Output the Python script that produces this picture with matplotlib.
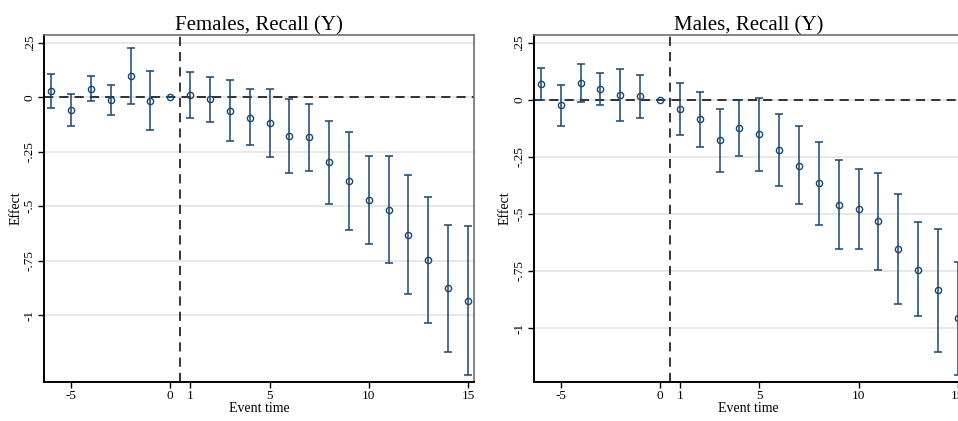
import numpy as np
import matplotlib
matplotlib.use("Agg")
import matplotlib.pyplot as plt

# event time axis
event_time = [-6, -5, -4, -3, -2, -1, 0, 1, 2, 3, 4, 5, 6, 7, 8, 9, 10, 11, 12, 13, 14, 15]

# Females, Recall (Y): point estimate and 95% CI
fem_coef = [0.029, -0.057, 0.040, -0.011, 0.099, -0.016, 0.0, 0.009, -0.009, -0.061, -0.094,
            -0.118, -0.178, -0.182, -0.298, -0.384, -0.471, -0.516, -0.630, -0.746, -0.876, -0.933]
fem_hi = [0.108, 0.017, 0.096, 0.056, 0.225, 0.121, 0.0, 0.116, 0.095, 0.078, 0.037,
          0.037, -0.008, -0.029, -0.107, -0.159, -0.268, -0.268, -0.358, -0.456, -0.584, -0.592]
fem_lo = [-0.050, -0.130, -0.016, -0.081, -0.029, -0.149, 0.0, -0.095, -0.112, -0.199, -0.220,
          -0.272, -0.347, -0.337, -0.489, -0.609, -0.674, -0.760, -0.902, -1.037, -1.168, -1.272]

# Males, Recall (Y)
mal_coef = [0.072, -0.023, 0.073, 0.047, 0.020, 0.016, 0.0, -0.039, -0.085, -0.177, -0.123,
            -0.151, -0.221, -0.288, -0.366, -0.459, -0.478, -0.531, -0.655, -0.744, -0.835, -0.958]
mal_hi = [0.139, 0.066, 0.156, 0.117, 0.134, 0.111, 0.0, 0.075, 0.034, -0.039, 0.000,
          0.009, -0.063, -0.115, -0.183, -0.263, -0.304, -0.319, -0.412, -0.537, -0.566, -0.709]
mal_lo = [0.001, -0.114, -0.010, -0.022, -0.094, -0.080, 0.0, -0.155, -0.205, -0.314, -0.244,
          -0.310, -0.377, -0.458, -0.548, -0.655, -0.655, -0.746, -0.896, -0.949, -1.105, -1.205]

yticks = [0.25, 0, -0.25, -0.5, -0.75, -1]
ytick_labels = [".25", "0", "-.25", "-.5", "-.75", "-1"]
xticks = [-5, 0, 1, 5, 10, 15]

plt.rcParams['font.family'] = ['Liberation Serif', 'DejaVu Serif']
plt.rcParams['axes.unicode_minus'] = False
navy = '#1a476f'

fig = plt.figure(figsize=(9.58, 4.21), dpi=100)


def panel(rect, title, coef, lo, hi, ylim):
    ax = fig.add_axes(rect)
    x = np.array(event_time)
    c = np.array(coef)
    err = [c - np.array(lo), np.array(hi) - c]
    ax.errorbar(x, c, yerr=err, fmt='none', ecolor=navy, elinewidth=1.1,
                capsize=2.6, capthick=1.1, zorder=3)
    ax.plot(x, c, 'o', ms=4.5, mfc='none', mec=navy, mew=1.0, zorder=4)
    ax.axhline(0, color='black', lw=1.1, ls=(0, (6, 4)), zorder=2)
    ax.axvline(0.5, color='black', lw=1.1, ls=(0, (6, 4)), zorder=2)
    ax.set_xlim(-6.36, 15.3)
    ax.set_ylim(*ylim)
    ax.set_yticks(yticks)
    ax.set_yticklabels(ytick_labels, rotation=90, va='center')
    ax.set_xticks(xticks)
    ax.grid(axis='y', color='#e3e3e3', lw=1.2, zorder=0)
    ax.set_axisbelow(True)
    ax.tick_params(labelsize=9.5, length=4, width=1, direction='out', pad=2)
    ax.set_xlabel('Event time', fontsize=10, labelpad=0)
    ax.set_ylabel('Effect', fontsize=10, labelpad=1)
    ax.set_title(title, fontsize=15, pad=3)
    for s in ['left', 'bottom']:
        ax.spines[s].set_linewidth(1.4)
        ax.spines[s].set_color('black')
    for s in ['top', 'right']:
        ax.spines[s].set_linewidth(1.2)
        ax.spines[s].set_color('#707070')
    return ax


panel([0.0459, 0.0926, 0.4489, 0.8243], 'Females, Recall (Y)',
      fem_coef, fem_lo, fem_hi, (-1.306, 0.286))
panel([0.5571, 0.0926, 0.4489, 0.8243], 'Males, Recall (Y)',
      mal_coef, mal_lo, mal_hi, (-1.237, 0.285))

fig.savefig('out.png', dpi=100)
